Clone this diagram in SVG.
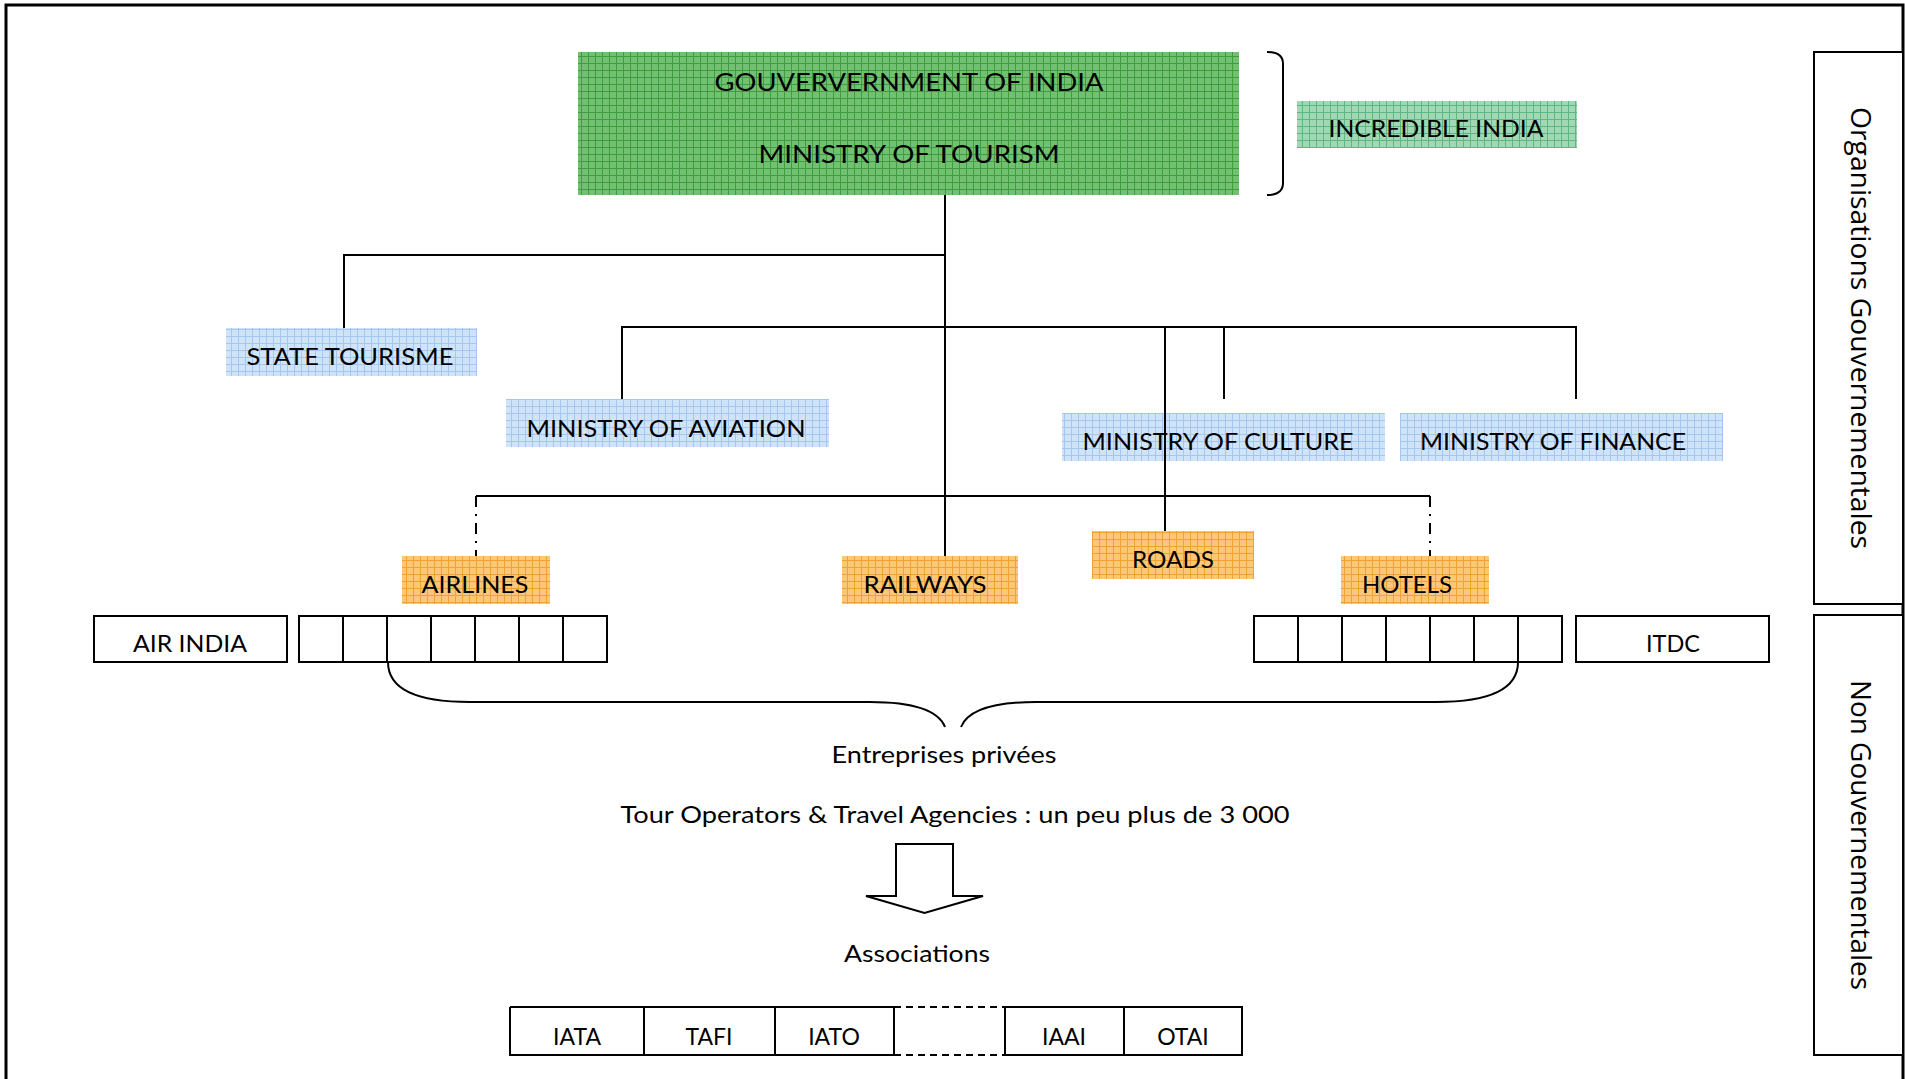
<svg xmlns="http://www.w3.org/2000/svg" width="1905" height="1079" viewBox="0 0 1905 1079">
<style>
.t{font-family:Lato,"Liberation Sans",sans-serif;fill:#000;text-anchor:middle}
.v{font-family:"Open Sans","DejaVu Sans",sans-serif;fill:#000;text-anchor:middle;font-size:27px}
.ln{fill:none;stroke:#000;stroke-width:2}
.bx{fill:#fff;stroke:#000;stroke-width:2}
.cell{fill:none;stroke:#000;stroke-width:2}
</style>
<defs>
<pattern id="pg" width="7" height="7" patternUnits="userSpaceOnUse"><rect width="7" height="7" fill="#72c172"/><path d="M0 0.5H7M0.5 0V7" stroke="#3f9c3f" stroke-width="1"/></pattern>
<pattern id="pm" width="7" height="7" patternUnits="userSpaceOnUse"><rect width="7" height="7" fill="#a0d8b4"/><path d="M0 0.5H7M0.5 0V7" stroke="#5fb583" stroke-width="1"/></pattern>
<pattern id="pb" width="7" height="7" patternUnits="userSpaceOnUse"><rect width="7" height="7" fill="#d0e4f9"/><path d="M0 0.5H7M0.5 0V7" stroke="#a4c6f0" stroke-width="1"/></pattern>
<pattern id="po" width="7" height="7" patternUnits="userSpaceOnUse"><rect width="7" height="7" fill="#fcc877"/><path d="M0 0.5H7M0.5 0V7" stroke="#f0a232" stroke-width="1"/></pattern>
<clipPath id="clipb"><rect x="500" y="1000" width="760" height="46"/></clipPath>
</defs>
<rect width="1905" height="1079" fill="#fff"/>
<path d="M6 1079V5H1903V1079" fill="none" stroke="#000" stroke-width="3"/>

<g id="side-gov">
<rect x="1814" y="52" width="89" height="552" class="bx"/>
<text class="v" transform="translate(1851,328) rotate(90)" textLength="442" lengthAdjust="spacingAndGlyphs">Organisations  Gouvernementales</text>
</g>
<g id="side-nongov">
<rect x="1814" y="615" width="89" height="440" class="bx"/>
<text class="v" transform="translate(1851,835) rotate(90)" textLength="310" lengthAdjust="spacingAndGlyphs">Non Gouvernementales</text>
</g>

<g id="connectors">
<path class="ln" d="M945 195V583"/>
<path class="ln" d="M945 255H344V328"/>
<path class="ln" d="M622 399V327H1576V399M1224 327V399"/>
<path class="ln" d="M1165 327V532"/>
<path class="ln" d="M476 496H1430"/>
<path class="ln" d="M476 496V568M1430 496V568" stroke-dasharray="11,7,2,7"/>
<path class="ln" d="M1267 52Q1283 52 1283 64V183Q1283 195 1267 195"/>
<path class="ln" d="M388 662Q388 702 470 702H870Q935 702 945 727"/>
<path class="ln" d="M961 727Q971 702 1036 702H1436Q1518 702 1518 662"/>
</g>

<g id="gov">
<rect x="578" y="52" width="661" height="143" fill="url(#pg)"/>
<text class="t" x="909" y="91" font-size="25" textLength="389" lengthAdjust="spacingAndGlyphs">GOUVERVERNMENT OF INDIA</text>
<text class="t" x="909" y="163" font-size="25" textLength="301" lengthAdjust="spacingAndGlyphs">MINISTRY OF TOURISM</text>
</g>
<g id="incredible">
<rect x="1297" y="101" width="280" height="47" fill="url(#pm)"/>
<text class="t" x="1436" y="137" font-size="23" textLength="215" lengthAdjust="spacingAndGlyphs">INCREDIBLE INDIA</text>
</g>
<g id="state">
<rect x="226" y="328" width="251" height="48" fill="url(#pb)"/>
<text class="t" x="350" y="365" font-size="23" textLength="207" lengthAdjust="spacingAndGlyphs">STATE TOURISME</text>
</g>
<g id="aviation">
<rect x="506" y="399" width="323" height="48" fill="url(#pb)"/>
<text class="t" x="666" y="437" font-size="23" textLength="279" lengthAdjust="spacingAndGlyphs">MINISTRY OF AVIATION</text>
</g>
<g id="culture">
<rect x="1062" y="413" width="323" height="48" fill="url(#pb)"/>
<text class="t" x="1218" y="450" font-size="23" textLength="271" lengthAdjust="spacingAndGlyphs">MINISTRY OF CULTURE</text>
</g>
<g id="finance">
<rect x="1400" y="413" width="323" height="48" fill="url(#pb)"/>
<text class="t" x="1553" y="450" font-size="23" textLength="266" lengthAdjust="spacingAndGlyphs">MINISTRY OF FINANCE</text>
</g>
<path class="ln" d="M1165 413V461"/>
<g id="airlines">
<rect x="402" y="556" width="148" height="48" fill="url(#po)"/>
<text class="t" x="475" y="593" font-size="23" textLength="107" lengthAdjust="spacingAndGlyphs">AIRLINES</text>
</g>
<g id="railways">
<rect x="842" y="556" width="176" height="48" fill="url(#po)"/>
<text class="t" x="925" y="593" font-size="23" textLength="123" lengthAdjust="spacingAndGlyphs">RAILWAYS</text>
</g>
<g id="roads">
<rect x="1092" y="531" width="162" height="48" fill="url(#po)"/>
<text class="t" x="1173" y="568" font-size="23" textLength="82" lengthAdjust="spacingAndGlyphs">ROADS</text>
</g>
<g id="hotels">
<rect x="1341" y="556" width="148" height="48" fill="url(#po)"/>
<text class="t" x="1407" y="593" font-size="23" textLength="90" lengthAdjust="spacingAndGlyphs">HOTELS</text>
</g>

<g id="airindia">
<rect x="94" y="616" width="193" height="46" class="bx"/>
<text class="t" x="190" y="652" font-size="23" textLength="114" lengthAdjust="spacingAndGlyphs">AIR INDIA</text>
</g>
<g id="airline-cells">
<rect x="299" y="616" width="308" height="46" class="cell"/>
<path class="ln" d="M343 616V662M387 616V662M431 616V662M475 616V662M519 616V662M563 616V662"/>
</g>
<g id="hotel-cells">
<rect x="1254" y="616" width="308" height="46" class="cell"/>
<path class="ln" d="M1298 616V662M1342 616V662M1386 616V662M1430 616V662M1474 616V662M1518 616V662"/>
</g>
<g id="itdc">
<rect x="1576" y="616" width="193" height="46" class="bx"/>
<text class="t" x="1673" y="652" font-size="23" textLength="54" lengthAdjust="spacingAndGlyphs">ITDC</text>
</g>

<g id="entreprises">
<text class="t" x="944" y="763" font-size="23" textLength="225" lengthAdjust="spacingAndGlyphs">Entreprises privées</text>
</g>
<g id="tour">
<text class="t" x="955" y="823" font-size="23" textLength="669" lengthAdjust="spacingAndGlyphs">Tour Operators &amp; Travel Agencies : un peu plus de 3 000</text>
</g>
<g id="arrow">
<path d="M896 844H953V896H983L924.5 913L866 896H896Z" fill="#fff" stroke="#000" stroke-width="2"/>
</g>
<g id="associations">
<text class="t" x="917" y="962" font-size="23" textLength="146" lengthAdjust="spacingAndGlyphs">Associations</text>
</g>
<g id="assoc-boxes">
<path class="ln" d="M510 1007H894M1005 1007H1242V1055H1005M894 1055H510V1007M644 1007V1055M775 1007V1055M894 1007V1055M1005 1007V1055M1124 1007V1055"/>
<path class="ln" d="M894 1007H1005M894 1055H1005" stroke-dasharray="7,5"/>
<g clip-path="url(#clipb)">
<text class="t" x="577" y="1045" font-size="23">IATA</text>
<text class="t" x="709" y="1045" font-size="23">TAFI</text>
<text class="t" x="834" y="1045" font-size="23">IATO</text>
<text class="t" x="1064" y="1045" font-size="23">IAAI</text>
<text class="t" x="1183" y="1045" font-size="23">OTAI</text>
</g>
</g>
</svg>
